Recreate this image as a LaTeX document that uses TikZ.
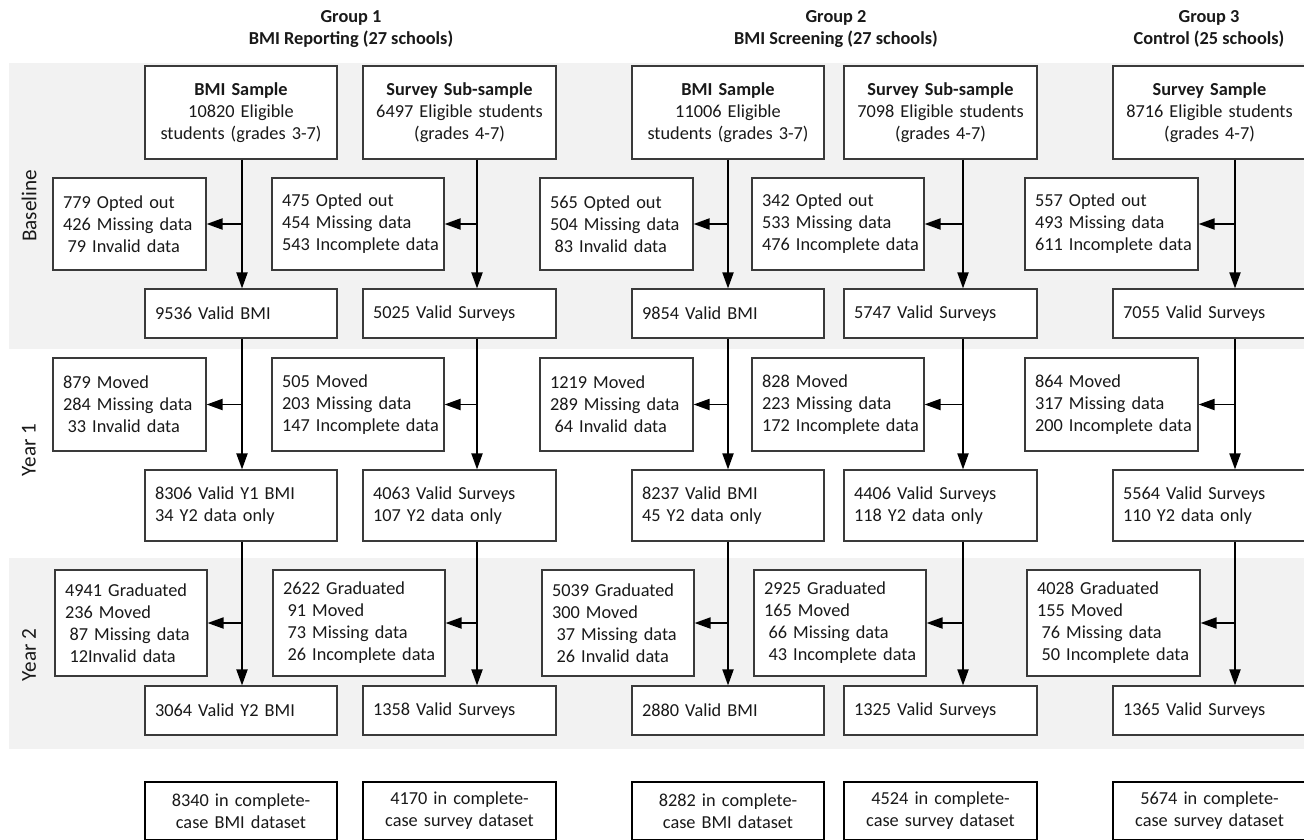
\documentclass[tikz,border=0pt]{standalone}
\usepackage{fontspec}
\setmainfont{Carlito}
\usetikzlibrary{arrows.meta,calc}
\definecolor{band}{HTML}{F2F2F2}
\definecolor{edge}{HTML}{3A3A3A}
\newcommand\myind{\hspace*{4.5pt}}
\newcommand\nb[1]{\mbox{#1}}
\begin{document}
\begin{tikzpicture}[x=1pt,y=-1pt,
  every node/.style={font=\fontsize{18.3}{22}\selectfont, text=black!90},
  box/.style={draw=edge, line width=1.1pt, fill=white, rectangle, inner ysep=0pt, inner xsep=0pt, minimum height=#1},
  cbox/.style={box=#1, align=center},
  lbox/.style={box=#1, align=left},
  fbox/.style={draw=black, line width=2pt, fill=white, rectangle, inner sep=0pt, minimum height=58pt, align=center},
  arr/.style={line width=1.9pt, -{Triangle[length=16pt,width=11pt]}},
  hdr/.style={font=\fontsize{18.3}{22}\selectfont\bfseries, align=center},
  yr/.style={rotate=90, font=\fontsize{21.2}{25}\selectfont}
]
\useasboundingbox (0,0) rectangle (1304,840);
\fill[white] (0,0) rectangle (1304,840);
\fill[band] (9,63) rectangle (1304,349);
\fill[band] (9,558) rectangle (1304,749);

% headers
\node[hdr] (h1) at (351,29) {Group 1\\BMI Reporting (27 schools)};
\node[hdr] (h2) at (836,29) {Group 2\\BMI Screening (27 schools)};
\node[hdr] (h3) at (1209,29) {Group 3\\Control (25 schools)};

% year labels
\node[yr] (yb) at (29,206) {Baseline};
\node[yr] (y1) at (29,450) {Year 1};
\node[yr] (y2) at (29,655) {Year 2};

% column line coordinates
\coordinate (L1) at (242,0);
\coordinate (L2) at (477,0);
\coordinate (L3) at (728,0);
\coordinate (L4) at (963,0);
\coordinate (L5) at (1235,0);

% top boxes
\node[cbox=93pt, text width=192pt] (t1) at (241,112.5) {\textbf{BMI Sample}\\10820 Eligible\\students (grades 3-7)};
\node[cbox=93pt, text width=193pt] (t2) at (459.5,112.5) {\textbf{Survey Sub-sample}\\\nb{6497 Eligible students}\\(grades 4-7)};
\node[cbox=93pt, text width=192pt] (t3) at (728,112.5) {\textbf{BMI Sample}\\11006 Eligible\\students (grades 3-7)};
\node[cbox=93pt, text width=193pt] (t4) at (940.5,112.5) {\textbf{Survey Sub-sample}\\\nb{7098 Eligible students}\\(grades 4-7)};
\node[cbox=93pt, text width=193pt] (t5) at (1209.5,112.5) {\textbf{Survey Sample}\\\nb{8716 Eligible students}\\(grades 4-7)};

% baseline exclusions
\node[lbox=92pt, text width=133pt, inner xsep=10pt] (e11) at (129.5,224) {779 Opted out\\426 Missing data\\\myind 79 Invalid data};
\node[lbox=92pt, text width=152pt, inner xsep=10pt] (e12) at (358,224) {475 Opted out\\454 Missing data\\\nb{543 Incomplete data}};
\node[lbox=92pt, text width=133pt, inner xsep=10pt] (e13) at (616.5,224) {565 Opted out\\504 Missing data\\\myind 83 Invalid data};
\node[lbox=92pt, text width=152pt, inner xsep=10pt] (e14) at (838,224) {342 Opted out\\533 Missing data\\\nb{476 Incomplete data}};
\node[lbox=92pt, text width=153pt, inner xsep=10pt] (e15) at (1111.5,224) {557 Opted out\\493 Missing data\\\nb{611 Incomplete data}};

% baseline valid
\node[lbox=49pt, text width=172pt, inner xsep=10pt] (v11) at (241,313.5) {9536 Valid BMI};
\node[lbox=49pt, text width=173pt, inner xsep=10pt] (v12) at (459.5,313.5) {5025 Valid Surveys};
\node[lbox=49pt, text width=172pt, inner xsep=10pt] (v13) at (728,313.5) {9854 Valid BMI};
\node[lbox=49pt, text width=173pt, inner xsep=10pt] (v14) at (940.5,313.5) {5747 Valid Surveys};
\node[lbox=49pt, text width=173pt, inner xsep=10pt] (v15) at (1209.5,313.5) {7055 Valid Surveys};

% year 1 exclusions
\node[lbox=93pt, text width=133pt, inner xsep=10pt] (e21) at (129.5,404.5) {879 Moved\\284 Missing data\\\myind 33 Invalid data};
\node[lbox=93pt, text width=152pt, inner xsep=10pt] (e22) at (358,404.5) {505 Moved\\203 Missing data\\\nb{147 Incomplete data}};
\node[lbox=93pt, text width=133pt, inner xsep=10pt] (e23) at (616.5,404.5) {1219 Moved\\289 Missing data\\\myind 64 Invalid data};
\node[lbox=93pt, text width=152pt, inner xsep=10pt] (e24) at (838,404.5) {828 Moved\\223 Missing data\\\nb{172 Incomplete data}};
\node[lbox=93pt, text width=153pt, inner xsep=10pt] (e25) at (1111.5,404.5) {864 Moved\\317 Missing data\\\nb{200 Incomplete data}};

% year 1 valid
\node[lbox=71pt, text width=172pt, inner xsep=10pt] (v21) at (241,505.5) {8306 Valid Y1 BMI\\34 Y2 data only};
\node[lbox=71pt, text width=173pt, inner xsep=10pt] (v22) at (459.5,505.5) {4063 Valid Surveys\\107 Y2 data only};
\node[lbox=71pt, text width=172pt, inner xsep=10pt] (v23) at (728,505.5) {8237 Valid BMI\\45 Y2 data only};
\node[lbox=71pt, text width=173pt, inner xsep=10pt] (v24) at (940.5,505.5) {4406 Valid Surveys\\118 Y2 data only};
\node[lbox=71pt, text width=173pt, inner xsep=10pt] (v25) at (1209.5,505.5) {5564 Valid Surveys\\110 Y2 data only};

% year 2 exclusions
\node[lbox=106pt, text width=132pt, inner xsep=10pt] (e31) at (131,623) {4941 Graduated\\236 Moved\\\myind 87 Missing data\\\myind 12Invalid data};
\node[lbox=106pt, text width=152pt, inner xsep=10pt] (e32) at (359,623) {2622 Graduated\\\myind 91 Moved\\\myind 73 Missing data\\\nb{\myind 26 Incomplete data}};
\node[lbox=106pt, text width=132pt, inner xsep=10pt] (e33) at (618,623) {5039 Graduated\\300 Moved\\\myind 37 Missing data\\\myind 26 Invalid data};
\node[lbox=106pt, text width=152pt, inner xsep=10pt] (e34) at (840,623) {2925 Graduated\\165 Moved\\\myind 66 Missing data\\\nb{\myind 43 Incomplete data}};
\node[lbox=106pt, text width=153pt, inner xsep=10pt] (e35) at (1113.5,623) {4028 Graduated\\155 Moved\\\myind 76 Missing data\\\nb{\myind 50 Incomplete data}};

% year 2 valid
\node[lbox=49pt, text width=172pt, inner xsep=10pt] (v31) at (241,710.5) {3064 Valid Y2 BMI};
\node[lbox=49pt, text width=173pt, inner xsep=10pt] (v32) at (459.5,710.5) {1358 Valid Surveys};
\node[lbox=49pt, text width=172pt, inner xsep=10pt] (v33) at (728,710.5) {2880 Valid BMI};
\node[lbox=49pt, text width=173pt, inner xsep=10pt] (v34) at (940.5,710.5) {1325 Valid Surveys};
\node[lbox=49pt, text width=173pt, inner xsep=10pt] (v35) at (1209.5,710.5) {1365 Valid Surveys};

% final datasets
\node[fbox, text width=192pt] (f1) at (241,811) {8340 in complete-\\case BMI dataset};
\node[fbox, text width=193pt] (f2) at (459.5,811) {4170 in complete-\\case survey dataset};
\node[fbox, text width=192pt] (f3) at (728,811) {8282 in complete-\\case BMI dataset};
\node[fbox, text width=193pt] (f4) at (940.5,811) {4524 in complete-\\case survey dataset};
\node[fbox, text width=193pt] (f5) at (1209.5,811) {5674 in complete-\\case survey dataset};

% connectors
\foreach \c in {1,...,5}{
  \draw[arr] (t\c.south -| L\c) -- (v1\c.north -| L\c);
  \draw[arr] (e1\c.east -| L\c) -- (e1\c.east);
  \draw[arr] (v1\c.south -| L\c) -- (v2\c.north -| L\c);
  \draw[arr] (e2\c.east -| L\c) -- (e2\c.east);
  \draw[arr] (v2\c.south -| L\c) -- (v3\c.north -| L\c);
  \draw[arr] (e3\c.east -| L\c) -- (e3\c.east);
}
\end{tikzpicture}
\end{document}
